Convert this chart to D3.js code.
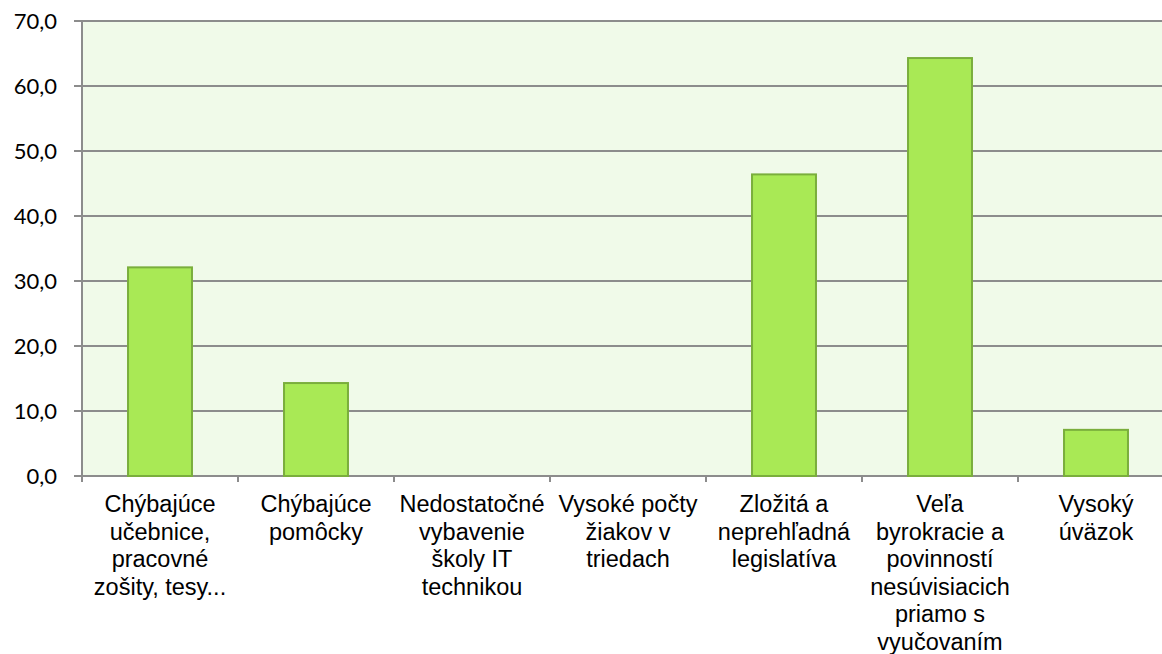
<!DOCTYPE html>
<html>
<head>
<meta charset="utf-8">
<script src="https://cdn.jsdelivr.net/npm/d3@7"></script>
<style>
  body { margin: 0; background: #fff; }
  svg { display: block; }
</style>
</head>
<body>
<div id="chart"></div>
<script>
// categories (already broken into lines as in the original)
var categories = [
  ["Chýbajúce", "učebnice,", "pracovné", "zošity, tesy..."],
  ["Chýbajúce", "pomôcky"],
  ["Nedostatočné", "vybavenie", "školy IT", "technikou"],
  ["Vysoké počty", "žiakov v", "triedach"],
  ["Zložitá a", "neprehľadná", "legislatíva"],
  ["Veľa", "byrokracie a", "povinností", "nesúvisiacich", "priamo s", "vyučovaním"],
  ["Vysoký", "úväzok"]
];
var values = [32.1, 14.3, 0, 0, 46.4, 64.3, 7.1];
var yTicks = [0, 10, 20, 30, 40, 50, 60, 70];

// set the dimensions and margins of the graph
var margin = {top: 21, left: 82},
    width = 1092,
    height = 455;

var svg = d3.select("#chart")
  .append("svg")
    .attr("width", 1162)
    .attr("height", 654)
  .append("g")
    .attr("transform", "translate(" + margin.left + "," + margin.top + ")");

var x = d3.scaleBand()
  .domain(d3.range(categories.length))
  .range([0, width])
  .paddingInner(0.59)
  .paddingOuter(0.295);

var y = d3.scaleLinear()
  .domain([0, 70])
  .range([height, 0]);

// plot background
svg.append("rect")
  .attr("width", width)
  .attr("height", height)
  .attr("fill", "#f0fae9");

// gridlines
svg.append("g")
  .selectAll("line")
  .data(yTicks)
  .enter()
  .append("line")
    .attr("x1", -8)
    .attr("x2", width)
    .attr("y1", function(d) { return y(d); })
    .attr("y2", function(d) { return y(d); })
    .attr("stroke", "#8c8c8c")
    .attr("stroke-width", 2);

// y labels
svg.append("g")
  .selectAll("text")
  .data(yTicks)
  .enter()
  .append("text")
    .attr("x", -25)
    .attr("y", function(d) { return y(d); })
    .attr("dy", "0.36em")
    .attr("text-anchor", "end")
    .attr("font-family", "Lato, sans-serif")
    .attr("font-size", 22)
    .attr("fill", "#000")
    .text(function(d) { return d3.format(".1f")(d).replace(".", ","); });

// bars
svg.append("g")
  .selectAll("rect")
  .data(values)
  .enter()
  .append("rect")
    .attr("x", function(d, i) { return x(i); })
    .attr("y", function(d) { return y(d); })
    .attr("width", x.bandwidth())
    .attr("height", function(d) { return height - y(d); })
    .attr("fill", "#a9e955")
    .attr("stroke", "#7aae3c")
    .attr("stroke-width", 2)
    .attr("display", function(d) { return d > 0 ? null : "none"; });

// y axis line
svg.append("line")
  .attr("x1", 0).attr("x2", 0)
  .attr("y1", 0).attr("y2", height + 6)
  .attr("stroke", "#8c8c8c")
  .attr("stroke-width", 2);

// x ticks at band boundaries
var step = x.step();
svg.append("g")
  .selectAll("line")
  .data(d3.range(categories.length + 1))
  .enter()
  .append("line")
    .attr("x1", function(d) { return x(0) - x.paddingOuter() * step + d * step; })
    .attr("x2", function(d) { return x(0) - x.paddingOuter() * step + d * step; })
    .attr("y1", height)
    .attr("y2", height + 6)
    .attr("stroke", "#8c8c8c")
    .attr("stroke-width", 2);

// category labels
var labels = svg.append("g")
  .selectAll("text")
  .data(categories)
  .enter()
  .append("text")
    .attr("transform", function(d, i) {
      return "translate(" + (x(i) + x.bandwidth() / 2) + "," + (height + 36) + ")";
    })
    .attr("text-anchor", "middle")
    .attr("font-family", "'Liberation Sans', Arial, sans-serif")
    .attr("font-size", 23.5)
    .attr("fill", "#000");

labels.selectAll("tspan")
  .data(function(d) { return d; })
  .enter()
  .append("tspan")
    .attr("x", 0)
    .attr("y", function(d, i) { return i * 27.6; })
    .text(function(d) { return d; });
</script>
</body>
</html>
